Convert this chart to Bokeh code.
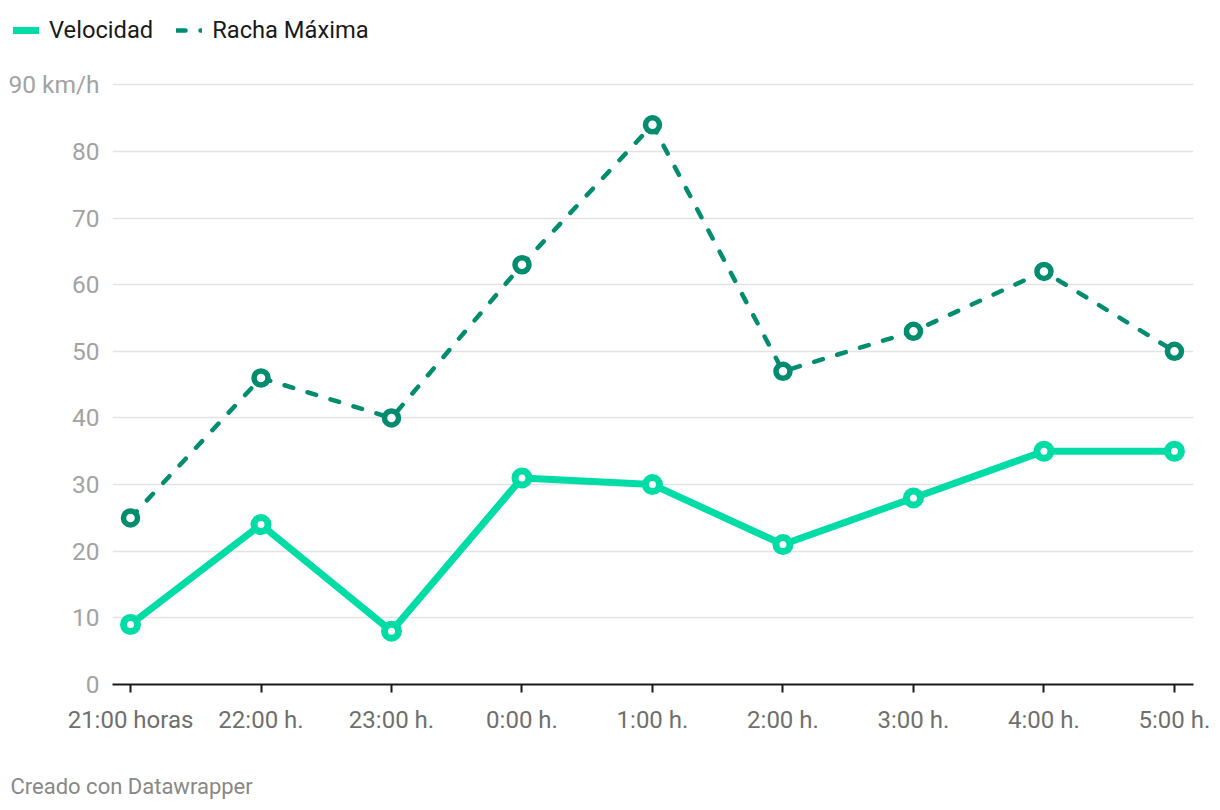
from bokeh.plotting import figure
from bokeh.layouts import column
from bokeh.models import Range1d, FixedTicker, Legend, LegendItem, Label
from bokeh.embed import file_html
from bokeh.resources import INLINE

horas = ["21:00 horas", "22:00 h.", "23:00 h.", "0:00 h.", "1:00 h.", "2:00 h.", "3:00 h.", "4:00 h.", "5:00 h."]
velocidad = [9, 24, 8, 31, 30, 21, 28, 35, 35]
racha = [25, 46, 40, 63, 84, 47, 53, 62, 50]
y_ticks = [0, 10, 20, 30, 40, 50, 60, 70, 80, 90]
fuente = "Creado con Datawrapper"

x = list(range(len(horas)))

C_VEL = "#00dca6"
C_RAC = "#008c6e"
FONT = "Roboto"
DASH = "9 15"
W = 1220


def strip(h):
    f = figure(width=W, height=h, output_backend="svg", toolbar_location=None,
               x_range=Range1d(0, W), y_range=Range1d(0, h),
               min_border_left=0, min_border_right=0, min_border_top=0, min_border_bottom=0,
               background_fill_color="white", border_fill_color="white")
    f.outline_line_color = None
    f.axis.visible = False
    f.grid.visible = False
    return f


# ---------- legend strip ----------
leg = strip(50)
nan = float("nan")
lv = leg.line([nan], [nan], line_color=C_VEL, line_width=7, line_cap="round")
lr = leg.line([nan], [nan], line_color=C_RAC, line_width=4.5, line_dash=DASH, line_cap="round")
legend = Legend(items=[LegendItem(label="Velocidad", renderers=[lv]),
                       LegendItem(label="Racha Máxima", renderers=[lr])],
                orientation="horizontal", location=(13, 6))
legend.label_text_font = FONT
legend.label_text_font_size = "23.7px"
legend.label_text_color = "#1a1a1a"
legend.glyph_width = 26
legend.glyph_height = 24
legend.label_height = 24
legend.spacing = 23
legend.label_standoff = 10
legend.padding = 0
legend.margin = 0
legend.border_line_color = None
legend.background_fill_alpha = 0
leg.add_layout(legend)

# ---------- main chart ----------
p = figure(width=W, height=690, output_backend="svg", toolbar_location=None,
           x_range=Range1d(-0.138, 8.146), y_range=Range1d(0, 90.5),
           min_border_left=112, min_border_right=27, min_border_top=31, min_border_bottom=56,
           background_fill_color="white", border_fill_color="white")
p.outline_line_color = None

p.xgrid.grid_line_color = None
p.ygrid.grid_line_color = "#e3e3e3"
p.ygrid.grid_line_width = 1.5
p.ygrid.ticker = FixedTicker(ticks=y_ticks[1:])

p.yaxis.ticker = FixedTicker(ticks=y_ticks)
p.yaxis.major_label_overrides = {90: "90 km/h"}
p.yaxis.axis_line_color = None
p.yaxis.major_tick_line_color = None
p.yaxis.major_tick_in = 0
p.yaxis.major_tick_out = 0
p.yaxis.minor_tick_line_color = None
p.yaxis.major_label_text_font = FONT
p.yaxis.major_label_text_font_size = "24.5px"
p.yaxis.major_label_text_color = "#a3a3a3"
p.yaxis.major_label_standoff = 13

p.xaxis.ticker = FixedTicker(ticks=x)
p.xaxis.major_label_overrides = {i: h for i, h in zip(x, horas)}
p.xaxis.axis_line_color = "#1a1a1a"
p.xaxis.axis_line_width = 2
p.xaxis.major_tick_line_color = "#1a1a1a"
p.xaxis.major_tick_line_width = 2
p.xaxis.major_tick_in = 0
p.xaxis.major_tick_out = 8
p.xaxis.minor_tick_line_color = None
p.xaxis.major_label_text_font = FONT
p.xaxis.major_label_text_font_size = "24px"
p.xaxis.major_label_text_color = "#6f6f6f"
p.xaxis.major_label_standoff = 13

p.line(x, racha, line_color=C_RAC, line_width=4.5, line_dash=DASH,
       line_cap="round", line_join="round")
p.scatter(x, racha, size=14, fill_color="white", line_color=C_RAC, line_width=5.5)

p.line(x, velocidad, line_color=C_VEL, line_width=7,
       line_cap="round", line_join="round")
p.scatter(x, velocidad, size=14, fill_color="white", line_color=C_VEL, line_width=7)

# ---------- footer strip ----------
foot = strip(70)
foot.add_layout(Label(x=10, y=24, text=fuente, text_font=FONT, text_font_size="22px",
                      text_color="#888888", text_baseline="middle", text_align="left"))

layout = column(column(leg), p, column(foot), spacing=0)
open("out.html", "w").write(file_html(layout, INLINE))
